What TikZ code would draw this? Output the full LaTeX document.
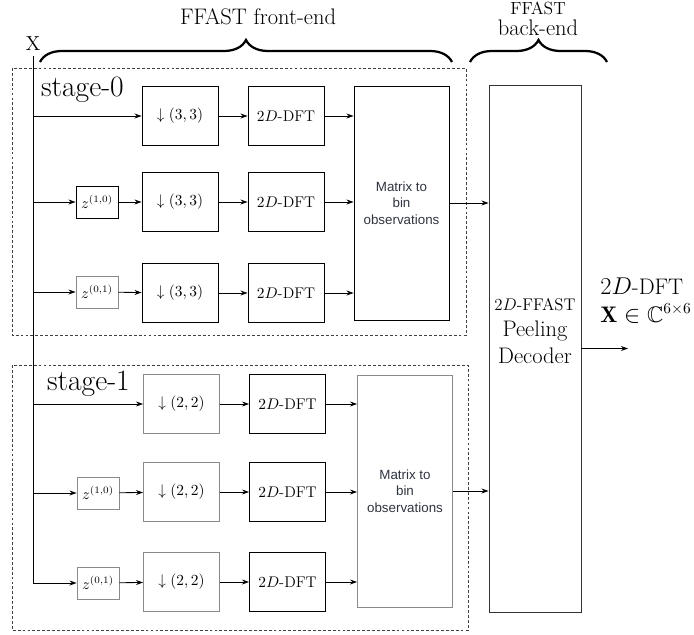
\documentclass[tikz,border=0pt]{standalone}
\usepackage{amsmath,amssymb}
\usepackage{fontspec}
\newfontfamily\mtxfont{Liberation Sans}
\usepackage{tikz}
\usetikzlibrary{arrows.meta,positioning,calc,decorations.pathreplacing}
\definecolor{boxGray}{HTML}{8A8A8A}
\definecolor{mtxText}{HTML}{2E3440}

\begin{document}
\begin{tikzpicture}[x=0.025cm,y=-0.025cm,line width=0.6pt,
  >={Stealth[length=5pt,width=3.5pt]},
  blk/.style={draw,minimum width=1.9cm,minimum height=1.475cm,inner sep=1pt,font=\fontsize{11}{12}\selectfont},
  zblk/.style={draw,minimum width=1.05cm,minimum height=0.8cm,inner sep=1pt,font=\fontsize{10.5}{12}\selectfont},
  mtx/.style={draw,minimum width=2.375cm,minimum height=5.85cm,align=center,text=mtxText,font=\mtxfont\fontsize{9.5}{11.8}\selectfont},
  stagebox/.style={draw=black!75,dash pattern=on 2pt off 1.5pt},
  bracelbl/.style={font=\fontsize{16}{19}\selectfont,align=center},
  bigbrace/.style={decorate,decoration={brace,amplitude=0.55cm},line width=1.6pt}]
\useasboundingbox (0,0) rectangle (694,635);

% front-end / back-end labels
\node[bracelbl] (fe) at (258,17) {FFAST front-end};
\node[bracelbl,inner sep=0pt] (be) at (538,19) {{\fontsize{12.5}{13}\selectfont FFAST}\\[-4pt]back-end};
\draw[bigbrace] (40,62) -- (452,62);
\draw[bigbrace] (470,62) -- (607,62);

% input
\node[font=\Large] (x) at (33,44) {X};

% stage-0
\draw[stagebox] (12,68) rectangle (466,335);
\node[anchor=west,font=\fontsize{21}{25}\selectfont] (s0) at (36,90) {stage-0};
\node[blk] (ds01) at (180,116) {$\downarrow(3,3)$};
\node[blk] (ds02) at (180,202) {$\downarrow(3,3)$};
\node[blk] (ds03) at (180,293) {$\downarrow(3,3)$};
\node[blk] (dft01) at (286,116) {$2D$-DFT};
\node[blk] (dft02) at (286,202) {$2D$-DFT};
\node[blk] (dft03) at (286,293) {$2D$-DFT};
\node[zblk] (z02) at (97,202) {$z^{(1,0)}$};
\node[zblk,draw=boxGray] (z03) at (97,292) {$z^{(0,1)}$};
\node[mtx] (mat0) at (401.5,203) {Matrix to\\bin\\observations};

% stage-1
\draw[stagebox] (12,365) rectangle (468,630);
\node[anchor=west,font=\fontsize{21}{25}\selectfont] (s1) at (42,384) {stage-1};
\node[blk,draw=boxGray] (ds11) at (181.5,404) {$\downarrow(2,2)$};
\node[blk,draw=boxGray] (ds12) at (181.5,492) {$\downarrow(2,2)$};
\node[blk,draw=boxGray] (ds13) at (181.5,582) {$\downarrow(2,2)$};
\node[blk] (dft11) at (287.5,404) {$2D$-DFT};
\node[blk] (dft12) at (287.5,492) {$2D$-DFT};
\node[blk] (dft13) at (287.5,582) {$2D$-DFT};
\node[zblk,draw=boxGray] (z12) at (98,493) {$z^{(1,0)}$};
\node[zblk,draw=boxGray] (z13) at (98,583) {$z^{(0,1)}$};
\node[mtx,minimum height=5.8cm,draw=boxGray] (mat1) at (405,491) {Matrix to\\bin\\observations};

% back-end
\node[draw=black!80,minimum width=2.3cm,minimum height=13.175cm] (dec) at (535,348.5) {};
\node[align=center,font=\fontsize{16}{18.6}\selectfont] (dectxt) at (535,331)
  {{\fontsize{12}{14}\selectfont $2D$-FFAST}\\Peeling\\Decoder};
\coordinate (out) at (628,348.5);
\node[anchor=base west,font=\fontsize{16}{18.6}\selectfont,inner sep=0pt] (outdft) at (600,294) {$2D$-DFT};
\node[anchor=base west,font=\fontsize{16}{18.6}\selectfont,inner sep=0pt] (outx) at (600,322) {$\mathbf{X}\in\mathbb{C}^{6\times6}$};

% input line and branches
\draw[->] (x.south) -- (x.south |- z13) -- (z13.west);
\foreach \t in {ds01,z02,z03,ds11,z12}
  \draw[->] (x.south |- \t) -- (\t.west);

% chains
\foreach \s in {0,1}{
  \draw[->] (ds\s1) -- (dft\s1);
  \foreach \r in {2,3}{
    \draw[->] (z\s\r) -- (ds\s\r);
    \draw[->] (ds\s\r) -- (dft\s\r);
  }
  \foreach \r in {1,2,3}
    \draw[->] (dft\s\r.east) -- (mat\s.west |- dft\s\r);
}
\draw[->] (mat0.east) -- (dec.west |- mat0.east);
\draw[->] (mat1.east) -- (dec.west |- mat1.east);
\draw[->] (dec.east) -- (out);
\end{tikzpicture}
\end{document}
